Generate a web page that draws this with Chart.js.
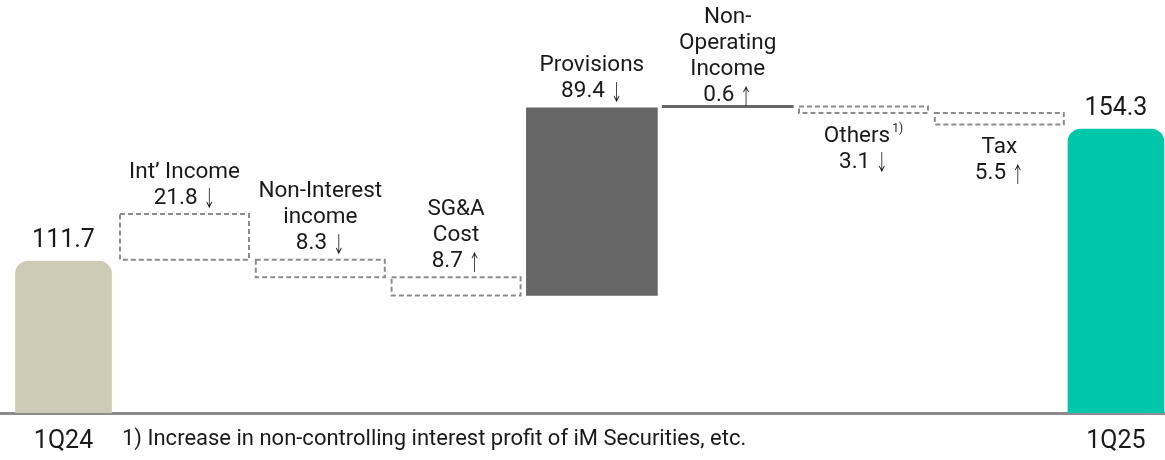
<!DOCTYPE html>
<html>
<head>
<meta charset="utf-8">
<script src="https://cdn.jsdelivr.net/npm/chart.js@4.4.1/dist/chart.umd.min.js"></script>
<style>
  html, body { margin: 0; padding: 0; background: #fff; }
  #wrap { width: 1165px; height: 460px; }
</style>
</head>
<body>
<div id="wrap"><canvas id="c"></canvas></div>
<script>
var periods = ['1Q24', '1Q25'];
var netIncome = [111.7, 154.3];
var stepNames = [['Int’ Income'], ['Non-Interest', 'income'], ['SG&A', 'Cost'], ['Provisions'], ['Non-', 'Operating', 'Income'], ['Others'], ['Tax']];
var stepAmounts = [21.8, 8.3, 8.7, 89.4, 0.6, 3.1, 5.5];
var stepArrows = ['↓', '↓', '↑', '↓', '↑', '↓', '↑'];
var stepEffect = [-1, -1, -1, 1, 1, -1, -1]; // +1 raises net income, -1 lowers it
var stepNotes = ['', '', '', '', '', '1)', ''];
var footnote = '1) Increase in non-controlling interest profit of iM Securities, etc.';

// walk the bridge from 1Q24
var running = netIncome[0];
var stepRanges = stepAmounts.map(function(a, i){
  var start = running;
  running = +(running + stepEffect[i] * a).toFixed(1);
  return [start, running];
});

var FONT = 'Roboto, "Noto Sans", sans-serif';
var LBL = '22.5px ' + FONT;
var ARROW = '22px "Noto Sans CJK KR", "DejaVu Sans", sans-serif';
var ARROW_SQUEEZE = 0.55; // the source arrows are tall and thin
var TXT = '#1a1a1a';

var labelPlugin = {
  id: 'stepLabels',
  afterDatasetsDraw: function(chart){
    var ctx = chart.ctx;
    var stepMeta = chart.getDatasetMeta(1);
    var endMeta = chart.getDatasetMeta(0);
    ctx.save();
    ctx.textBaseline = 'middle';
    ctx.fillStyle = TXT;

    stepMeta.data.forEach(function(bar, i){
      var p = bar.getProps(['x', 'y', 'base', 'width'], true);
      var top = Math.min(p.y, p.base), bot = Math.max(p.y, p.base);
      if (stepEffect[i] < 0) {
        ctx.setLineDash([5, 3]);
        ctx.lineWidth = 2;
        ctx.strokeStyle = '#8c8c8c';
        ctx.strokeRect(p.x - p.width / 2 + 1, top, p.width - 2, bot - top);
        ctx.setLineDash([]);
      }
      var names = stepNames[i];
      var lh = 26;
      var below = stepEffect[i] < 0 && top < 150;
      var gap = (bot - top) < 5 ? 10 : 16;
      var y0 = below ? bot + 23 : top - gap - lh * names.length;

      ctx.textAlign = 'center';
      ctx.font = LBL;
      names.forEach(function(t, k){
        var y = y0 + k * lh;
        if (k === 0 && stepNotes[i]) {
          var w1 = ctx.measureText(t).width;
          ctx.font = '12px ' + FONT;
          var w2 = ctx.measureText(stepNotes[i]).width;
          var sx = p.x - (w1 + w2 + 2) / 2;
          ctx.textAlign = 'left';
          ctx.fillText(stepNotes[i], sx + w1 + 2, y - 7);
          ctx.font = LBL;
          ctx.fillText(t, sx, y);
          ctx.textAlign = 'center';
        } else {
          ctx.fillText(t, p.x, y);
        }
      });

      // amount + arrow
      var yv = y0 + names.length * lh;
      var num = stepAmounts[i].toFixed(1) + ' ';
      ctx.font = LBL;
      var wn = ctx.measureText(num).width;
      ctx.font = ARROW;
      var wa = ctx.measureText(stepArrows[i]).width * ARROW_SQUEEZE;
      var x0 = p.x - (wn + wa) / 2;
      ctx.textAlign = 'left';
      ctx.font = LBL;
      ctx.fillText(num, x0, yv);
      ctx.save();
      ctx.translate(x0 + wn, yv);
      ctx.scale(ARROW_SQUEEZE, 1);
      ctx.font = ARROW;
      ctx.fillText(stepArrows[i], 0, 0);
      ctx.restore();
    });

    ctx.textAlign = 'center';
    ctx.font = '25px ' + FONT;
    endMeta.data.forEach(function(bar, i){
      ctx.fillText(netIncome[i].toFixed(1), bar.x, bar.y - 20);
    });

    ctx.textAlign = 'left';
    ctx.font = '22px ' + FONT;
    ctx.fillText(footnote, 122, 439);
    ctx.restore();
  }
};

new Chart(document.getElementById('c'), {
  type: 'bar',
  data: {
    datasets: [
      {
        data: netIncome.map(function(v, i){ return { x: i === 0 ? 0 : stepAmounts.length + 1, y: v }; }),
        xAxisID: 'xe',
        yAxisID: 'y',
        grouped: false,
        backgroundColor: ['#cdcab6', '#00c7aa'],
        borderWidth: 0,
        borderRadius: 13,
        borderSkipped: false,
        barThickness: 96
      },
      {
        data: stepRanges.map(function(r, i){ return { x: i + 1, y: r }; }),
        xAxisID: 'x',
        yAxisID: 'y2',
        grouped: false,
        backgroundColor: function(c){ return stepEffect[c.dataIndex] > 0 ? '#666666' : 'rgba(0,0,0,0)'; },
        borderWidth: 0,
        borderRadius: 0,
        barThickness: 131,
        minBarLength: 2.5
      }
    ]
  },
  options: {
    responsive: true,
    maintainAspectRatio: false,
    animation: false,
    layout: { padding: 0 },
    plugins: { legend: { display: false }, tooltip: { enabled: false } },
    scales: {
      xe: {
        type: 'linear',
        position: 'bottom',
        min: -0.4827,
        max: 8.3726,
        offset: false,
        z: 1,
        grid: { display: false, drawTicks: false },
        border: { display: true, color: '#8c8c8c', width: 3 },
        afterBuildTicks: function(s){ s.ticks = [{ value: 0 }, { value: stepAmounts.length + 1 }]; },
        afterFit: function(s){ s.height = 47; },
        ticks: {
          autoSkip: false,
          maxRotation: 0,
          padding: 14,
          color: TXT,
          font: { family: FONT, size: 25 },
          callback: function(v){ return v === 0 ? periods[0] : periods[1]; }
        }
      },
      x: { type: 'linear', display: false, min: -0.3586, max: 8.2202, offset: false },
      y: { display: false, min: 62.65, max: 195.94, beginAtZero: false },
      y2: { display: false, min: 16.94, max: 213.6, beginAtZero: false }
    }
  },
  plugins: [labelPlugin]
});
</script>
</body>
</html>
